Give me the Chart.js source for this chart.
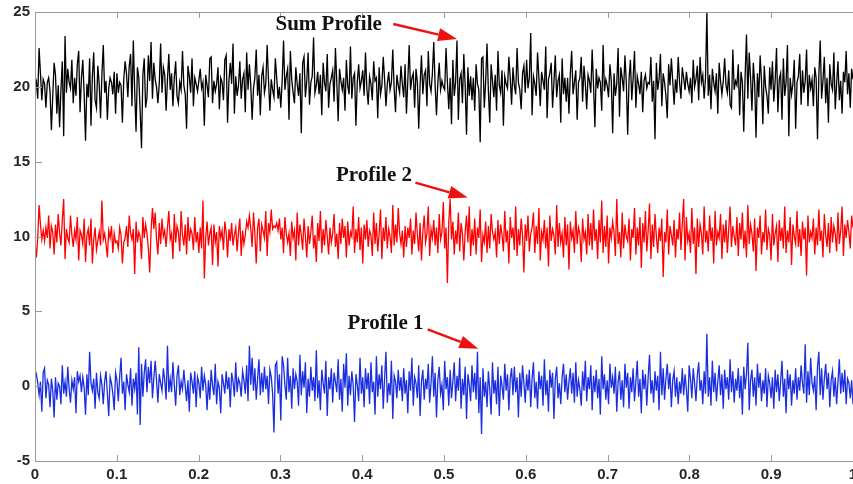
<!DOCTYPE html>
<html>
<head>
<meta charset="utf-8">
<script src="https://cdn.jsdelivr.net/npm/chart.js@4/dist/chart.umd.min.js"></script>
<style>
  html, body { margin: 0; padding: 0; background: #fff; overflow: hidden; }
  #wrap { width: 880px; height: 484px; }
</style>
</head>
<body>
<div id="wrap"><canvas id="profiles" width="880" height="484"></canvas></div>
<script>
// values, about 30 samples per 0.05 of x
const sumProfile = [
  20.7,20.4,19.2,22.6,20.9,19.1,20.5,20.2,18.6,20.3,20.6,19.7,17.1,19.4,21.6,20.8,18.2,20.1,17.3,19.8,21.7,16.7,23.4,19.6,21.2,20.3,19.9,21.8,18.9,20.6,
  19.4,21.5,22.4,18.3,20.6,21.8,19.5,16.4,20.2,19.3,21.9,17.4,20.7,22.3,19.1,18.6,21.4,20.2,17.9,20.8,22.8,19.6,20.4,17.8,19.9,20.6,20.3,19.5,21.0,18.2,
  20.9,19.6,20.3,20.1,17.6,20.5,21.7,20.9,19.3,21.4,22.2,18.7,23.1,19.7,17.0,21.3,20.6,18.4,15.9,20.8,21.9,18.6,19.3,22.1,20.4,23.0,19.2,21.6,20.5,20.0,
  18.9,20.2,22.9,19.6,21.3,20.8,18.4,20.5,22.2,19.8,20.9,18.7,20.6,21.7,19.4,18.9,20.3,19.8,22.4,20.1,19.5,17.2,21.4,20.7,19.6,21.9,18.7,20.6,20.2,19.7,
  20.4,21.2,19.9,20.3,17.4,20.8,20.1,19.3,21.9,22.0,18.9,20.4,19.7,20.2,21.3,18.5,20.6,20.3,19.1,21.8,22.1,17.6,20.4,21.6,20.2,22.9,18.2,20.7,19.4,20.1,
  21.7,19.2,20.5,20.9,18.3,22.3,19.8,21.5,20.1,17.8,19.9,20.6,22.5,19.4,20.8,18.1,20.7,21.3,19.6,20.2,22.8,20.4,18.4,20.5,19.8,19.3,21.9,20.6,19.2,20.0,
  18.6,20.4,23.1,19.8,20.7,21.2,17.8,22.4,20.5,19.6,18.9,21.3,20.2,19.4,20.9,16.9,21.6,22.0,19.3,20.4,22.3,18.8,20.3,20.7,23.3,19.6,20.1,21.0,19.5,20.8,
  18.1,21.6,20.3,19.7,22.2,18.6,20.2,20.6,21.1,19.0,22.6,20.3,17.7,21.2,20.4,19.8,20.6,18.4,21.8,20.1,19.5,22.7,19.2,20.6,20.9,17.4,20.3,21.5,19.9,20.4,
  21.1,19.4,22.3,19.9,18.8,20.7,20.2,19.1,21.7,20.4,20.6,17.9,21.3,19.5,20.1,22.0,20.5,18.7,20.2,21.0,19.8,20.3,22.5,19.9,18.3,20.8,20.1,19.6,21.4,20.2,
  19.3,21.5,18.2,20.4,22.8,19.8,20.6,20.9,18.6,21.2,20.3,17.2,20.1,22.1,19.5,20.8,21.1,18.7,22.4,20.2,19.7,20.9,23.0,20.1,18.1,20.3,21.6,19.8,20.4,20.0,
  19.8,22.6,20.3,18.5,20.6,17.5,21.8,19.4,20.3,23.1,17.8,20.5,20.9,18.9,22.2,20.1,16.8,21.3,19.4,20.7,19.1,20.6,18.4,21.5,20.2,19.8,16.3,21.9,22.0,18.6,
  20.3,22.9,19.7,17.6,21.5,20.4,19.3,20.8,18.4,22.4,20.1,19.6,21.1,17.4,20.7,20.2,19.9,22.0,20.6,18.8,21.3,20.1,19.5,22.6,20.3,19.8,18.5,20.9,21.4,19.6,
  21.8,19.9,20.6,23.6,18.1,20.7,20.2,19.4,22.3,20.6,18.7,21.0,20.4,19.8,22.7,17.9,20.5,20.9,21.6,18.6,20.3,22.1,19.3,20.4,20.8,17.6,21.9,19.5,20.6,19.0,
  20.6,18.2,20.9,22.4,19.5,20.3,21.1,17.8,20.3,20.6,22.0,19.0,21.4,20.2,18.5,20.8,20.4,19.6,22.5,20.1,17.3,21.2,19.9,20.6,20.3,18.4,22.8,19.7,20.5,20.1,
  19.3,21.5,20.4,16.9,20.9,19.4,20.2,22.6,18.0,21.3,20.6,19.7,22.1,20.3,16.8,20.5,21.8,19.1,20.6,22.4,18.6,20.7,20.2,19.5,21.0,18.3,20.4,20.8,19.9,20.3,
  20.2,22.0,19.0,20.4,16.5,21.6,19.8,20.5,22.2,18.7,20.9,20.3,19.4,17.9,21.5,20.1,21.9,20.4,18.8,20.5,19.6,22.0,20.3,19.2,21.3,20.6,19.8,21.0,20.2,19.7,
  20.6,18.9,21.8,20.0,20.5,21.4,19.1,22.0,20.3,20.8,19.2,20.6,25.0,19.4,20.8,18.5,21.2,20.3,19.7,20.9,18.2,21.6,20.4,19.5,20.4,21.9,20.1,19.6,21.1,18.8,
  18.6,22.5,19.8,20.4,20.1,21.5,18.1,21.0,20.3,17.0,20.7,23.5,19.2,22.3,20.6,18.4,21.6,20.2,16.6,20.9,19.3,22.1,20.4,17.5,21.4,20.0,19.4,18.2,21.3,19.8,
  21.7,19.0,20.4,22.6,18.3,20.5,20.9,17.8,21.9,19.4,20.3,22.8,16.7,20.6,19.5,20.2,21.8,17.2,20.3,20.7,22.2,18.8,21.1,19.6,20.4,22.5,18.7,20.8,19.9,20.5,
  18.7,21.3,20.6,16.5,20.8,23.1,19.2,20.4,22.0,18.9,20.6,17.6,21.5,20.2,19.8,22.3,18.5,20.2,21.7,19.1,20.4,18.2,21.0,20.3,22.4,19.5,20.9,18.6,21.2,20.5
]

const profile2 = [
  9.6,8.6,9.9,12.1,10.8,9.8,10.4,9.7,10.6,9.9,11.4,9.2,10.7,10.3,8.8,10.8,9.6,11.5,10.2,9.4,11.1,12.5,8.5,10.5,9.9,9.6,11.4,10.1,9.3,10.4,
  9.8,11.3,8.4,10.4,10.1,9.5,11.2,8.3,10.1,10.5,9.4,11.2,8.2,9.8,10.6,9.1,9.7,10.3,9.4,12.4,9.8,10.2,9.5,8.6,10.4,9.9,10.7,8.9,10.2,9.6,
  9.7,9.2,10.6,10.1,8.2,9.6,9.9,10.7,9.3,11.4,10.2,9.8,10.5,7.5,11.0,9.6,10.3,10.0,8.5,11.3,9.9,10.8,10.2,9.2,7.6,10.4,11.9,10.5,11.6,9.8,
  8.8,10.9,9.5,11.2,10.0,10.4,9.3,10.6,11.7,9.8,10.2,8.5,11.5,9.6,10.7,10.3,9.0,11.7,10.1,9.4,10.8,8.8,11.3,9.7,10.5,10.2,9.1,11.3,9.6,10.3,
  8.9,10.6,9.2,12.4,7.2,9.9,11.0,9.4,10.2,10.6,8.1,10.8,9.6,10.3,8.0,10.7,9.9,10.4,9.1,11.0,10.3,8.6,10.5,9.7,10.9,9.4,10.1,10.6,9.0,10.3,
  11.2,8.7,10.4,9.5,10.1,11.0,10.6,11.4,10.5,9.3,11.6,10.2,8.2,10.6,11.2,9.0,10.8,10.4,9.9,11.7,8.7,10.9,10.3,11.8,10.5,10.7,10.6,10.9,10.4,11.2,
  9.8,10.6,8.9,11.3,10.2,9.6,10.2,8.7,11.0,9.9,10.4,8.4,11.6,9.4,10.8,10.1,9.1,11.2,10.0,8.6,10.7,9.5,10.3,11.4,9.2,10.1,8.3,10.9,9.7,11.7,
  8.9,10.5,9.4,11.1,10.0,8.8,10.6,9.6,10.2,11.5,9.3,10.2,8.5,10.9,9.5,11.2,9.9,10.7,8.6,11.0,9.4,10.3,10.0,12.0,8.9,10.5,9.6,11.3,9.1,10.6,
  8.2,10.8,9.8,11.1,9.3,10.4,10.1,8.7,11.6,9.5,10.9,9.0,10.2,11.8,8.5,10.6,9.7,11.3,9.2,10.5,10.0,8.9,12.1,9.4,10.8,9.6,11.9,10.2,9.5,10.4,
  8.6,10.7,9.3,10.6,9.9,11.2,8.8,10.4,9.5,11.6,10.1,9.0,10.9,8.4,10.3,11.4,9.6,10.2,12.0,8.7,10.5,9.9,11.1,9.4,10.6,8.9,11.5,9.8,10.3,12.3,
  9.2,10.6,6.9,11.0,12.5,9.8,11.0,8.8,10.4,9.5,11.6,9.0,10.9,10.2,8.4,10.3,11.4,9.6,12.0,8.7,10.5,9.4,11.2,8.8,10.6,9.9,11.8,8.3,10.1,9.6,
  11.0,8.9,10.7,9.2,11.5,10.3,9.8,10.3,8.6,11.1,9.5,10.8,10.1,9.0,11.7,9.6,10.4,8.2,11.3,9.9,10.6,9.1,12.0,8.7,10.5,9.4,11.2,10.1,7.6,10.8,
  9.7,11.4,9.0,10.2,10.6,11.6,8.9,10.7,9.5,11.9,8.4,10.3,9.8,11.1,9.2,10.6,8.0,11.4,9.7,10.5,10.1,8.8,12.1,9.3,10.9,9.6,10.2,8.6,11.3,9.4,
  10.8,7.8,11.0,9.9,10.4,8.9,11.7,9.5,10.6,10.2,8.3,11.2,9.8,10.3,8.8,11.5,9.4,10.9,9.1,11.8,9.7,10.5,8.5,11.1,9.6,12.4,8.9,10.7,9.3,11.4,
  8.2,10.6,9.9,11.0,10.3,8.7,12.5,9.5,10.3,8.6,11.6,9.2,10.8,10.0,9.7,11.2,8.4,10.5,9.9,11.9,8.8,10.6,9.4,11.3,7.9,10.9,9.6,11.7,9.0,10.4,
  12.2,8.5,10.8,9.3,11.5,10.0,8.9,10.6,9.7,11.2,7.3,10.3,9.6,11.8,8.8,10.7,10.1,9.4,11.1,8.6,10.5,9.8,11.6,9.1,10.9,12.5,8.4,11.3,9.7,10.2,
  8.9,11.9,9.5,10.6,7.5,11.2,9.3,10.8,10.2,8.8,12.0,9.6,10.4,9.0,11.4,9.7,10.6,8.2,11.7,9.4,10.3,9.9,11.5,8.5,10.8,9.6,11.1,8.9,10.5,12.0,
  9.3,10.7,10.0,9.4,11.3,8.7,10.9,9.8,11.6,9.2,10.4,8.6,12.1,9.5,10.8,10.2,9.0,11.2,7.7,10.6,9.9,11.4,8.8,10.3,9.6,11.8,9.1,10.5,10.1,8.4,
  11.5,9.4,10.2,10.7,8.3,11.1,9.7,10.6,9.2,12.0,8.9,10.4,9.6,11.3,8.1,10.8,10.0,9.5,11.7,9.3,10.5,8.7,11.0,9.8,10.6,7.4,11.4,9.6,10.3,9.9,
  11.2,8.8,10.6,9.4,11.8,9.7,10.4,8.6,11.5,10.1,9.3,10.9,8.9,11.3,9.6,10.7,10.2,9.0,11.6,9.5,10.4,12.0,8.7,10.8,9.9,11.1,10.3,9.2,11.4,10.6
]

const profile1 = [
  1.1,0.8,0.2,-0.6,0.3,-1.7,0.9,1.2,-0.8,0.4,0.1,-1.4,0.5,-0.3,-2.1,0.6,-0.9,0.2,0.0,-1.2,1.4,-0.5,0.3,-0.7,1.3,-0.2,-1.1,0.4,-0.2,0.6,
  -1.8,1.0,0.3,0.7,-0.4,0.6,-0.1,-1.9,0.8,-0.6,2.3,0.2,-0.3,0.5,-1.5,0.9,-0.4,-0.8,0.7,0.1,-1.2,0.3,1.0,-0.5,-2.0,0.6,0.2,-0.5,-1.6,0.9,
  0.4,-1.0,0.6,1.9,-0.5,0.3,-1.6,0.8,0.1,-0.4,1.2,-1.3,0.5,-0.2,0.9,-1.9,2.6,-2.6,1.5,-0.7,0.9,1.8,-0.4,1.3,0.2,1.7,-0.8,0.5,1.7,0.4,
  -1.1,0.8,0.2,-0.3,1.2,0.4,-0.9,2.7,-0.4,0.5,-0.4,1.6,0.1,-1.3,0.7,1.4,-0.6,0.3,-0.2,1.1,0.0,-1.0,0.4,-1.7,0.9,0.3,-0.5,1.0,-1.4,0.6,
  0.2,-0.8,1.3,-0.3,0.7,0.1,-1.6,0.4,-0.9,1.1,0.0,-0.6,1.5,-1.2,0.3,-0.1,-1.8,0.8,0.2,-0.5,1.0,-0.2,0.6,-1.4,0.9,0.3,-0.7,1.6,-0.4,0.5,
  0.2,-0.7,1.0,0.4,-0.5,1.4,-1.0,2.7,0.1,1.9,-0.3,1.2,-0.9,0.5,1.8,-0.6,0.9,-0.4,1.3,-0.2,0.7,-1.2,1.1,0.6,-0.5,-3.1,1.4,1.6,-0.5,0.8,
  -2.3,2.0,1.4,0.1,-0.9,1.9,-0.4,0.7,-1.5,1.2,-0.2,0.8,0.3,-1.3,2.1,-0.6,1.0,-0.1,1.6,-1.8,0.5,-0.7,1.3,-0.3,0.6,-1.0,2.4,-0.8,0.4,-1.6,
  1.1,0.2,-0.5,1.7,-2.0,0.6,-0.2,1.2,-1.1,0.9,0.3,-0.4,1.8,-0.9,0.5,-1.7,1.5,-0.1,2.2,-1.3,0.7,-0.6,1.0,0.1,-2.4,0.8,0.1,-1.0,1.9,-0.5,
  0.6,-1.4,1.2,-0.2,0.9,-1.2,1.6,-0.4,0.3,-1.9,2.0,-0.7,0.8,-0.2,1.4,-1.5,0.5,2.3,-1.1,0.2,-0.6,1.7,-2.2,0.7,0.3,-0.8,1.1,-0.3,0.6,-1.0,
  1.2,-0.5,0.4,-1.8,1.0,-0.3,1.9,-1.3,0.6,0.2,-0.8,1.4,-2.0,0.3,1.1,-0.9,0.5,-0.2,1.5,-1.1,0.2,2.0,-0.7,0.9,-2.1,0.4,1.3,-0.5,0.1,-1.6,
  1.7,-0.2,0.6,-1.3,1.1,-0.8,0.3,1.6,-1.0,0.7,-0.3,1.9,-1.5,0.5,-0.6,1.3,-2.2,0.8,0.1,-1.0,1.4,-0.4,0.9,-0.9,2.3,-1.8,0.6,-3.2,1.2,-0.7,
  0.3,-1.4,1.0,-0.2,-1.9,1.6,-0.5,0.4,-1.2,1.3,-2.0,0.7,0.0,-0.9,1.5,-0.3,0.8,-1.6,0.5,1.2,-0.6,1.3,-0.4,0.6,-2.1,0.9,-0.7,1.4,0.2,-1.1,
  0.8,-0.3,1.1,-1.4,0.5,1.6,-0.8,0.3,-1.5,1.0,-0.2,0.7,-1.3,1.8,-0.6,0.4,-1.7,1.1,-0.1,0.9,-2.2,0.5,1.3,-0.8,0.2,-1.2,0.6,1.5,-0.4,0.8,
  -0.9,0.3,1.2,-0.5,0.9,-1.1,1.6,-0.7,0.4,-0.2,-1.3,1.0,-0.3,1.7,-1.0,0.6,-0.2,1.4,-1.6,0.7,-0.4,1.1,-0.8,0.5,-1.9,2.0,-0.2,0.8,-0.9,0.4,
  -1.2,1.5,-0.1,0.6,-0.5,1.3,-1.7,0.3,1.0,-0.9,0.4,-1.4,1.5,-0.1,0.9,-1.5,0.6,-0.4,1.2,-1.0,0.3,1.7,-0.7,0.5,-1.8,1.1,-0.2,0.8,-1.3,0.6,
  2.1,-0.5,0.4,-1.1,1.0,-0.3,0.7,-1.6,2.3,-0.6,1.2,-0.9,0.5,1.5,-0.2,0.9,-1.4,0.4,1.0,-0.7,0.6,-1.2,0.3,-0.5,1.2,-0.6,0.8,-0.2,-1.7,1.4,
  0.5,-0.8,1.2,0.2,-1.0,0.7,1.6,-0.3,0.4,-1.2,1.0,-0.5,3.5,-0.7,0.6,-1.3,1.7,-0.4,0.9,-1.0,0.3,1.4,-0.6,0.8,-1.5,1.1,-0.2,0.6,-0.9,1.8,
  -0.4,1.0,-1.1,0.5,-0.3,1.2,-0.8,0.7,-1.9,1.3,-0.2,0.8,2.9,-1.6,0.4,1.1,-0.7,0.6,-1.3,1.5,-0.1,0.9,-1.0,0.4,-0.5,1.2,-1.4,0.7,0.2,-0.8,
  0.6,-1.5,1.1,-0.4,0.8,-1.0,0.3,1.7,-0.7,0.5,-1.8,1.1,-0.2,0.8,-1.3,0.4,-0.5,1.2,-0.9,0.6,-0.3,1.4,0.2,-0.5,2.8,-1.1,1.0,-0.6,1.9,0.2,
  -0.3,0.7,-1.6,1.3,2.3,-0.6,1.2,-0.9,0.5,1.5,-0.2,0.9,-1.4,0.4,1.0,-0.7,0.6,-1.2,0.3,1.8,-0.5,0.9,-0.4,1.1,-1.2,0.5,0.2,-0.8,0.4,-1.2
]

const xTicks = [0, 0.1, 0.2, 0.3, 0.4, 0.5, 0.6, 0.7, 0.8, 0.9, 1]
const yTicks = [-5, 0, 5, 10, 15, 20, 25]

// text labels with arrows, in data units: [text, textX, textY, arrowFromX, arrowFromY, arrowToX, arrowToY]
const callouts = [
  ["Sum Profile", 0.294, 23.8, 0.438, 24.2, 0.516, 23.2],
  ["Profile 2", 0.368, 13.7, 0.465, 13.6, 0.529, 12.6],
  ["Profile 1", 0.382, 3.8, 0.480, 3.8, 0.542, 2.5],
]

function toPoints(values) {
  return values.map((v, i) => ({ x: i / (values.length - 1), y: v }))
}

const frameAndCallouts = {
  id: "frameAndCallouts",
  afterDatasetsDraw(chart) {
    const { ctx, chartArea, scales } = chart
    const { left, right, top, bottom } = chartArea
    ctx.save()
    ctx.strokeStyle = "#9a9a9a"
    ctx.lineWidth = 1
    ctx.strokeRect(left + 0.5, top + 0.5, right - left, bottom - top)
    ctx.beginPath()
    for (const t of xTicks) {
      const px = Math.round(scales.x.getPixelForValue(t)) + 0.5
      ctx.moveTo(px, bottom); ctx.lineTo(px, bottom - 6)
      ctx.moveTo(px, top); ctx.lineTo(px, top + 6)
    }
    for (const t of yTicks) {
      const py = Math.round(scales.y.getPixelForValue(t)) + 0.5
      ctx.moveTo(left, py); ctx.lineTo(left + 7, py)
    }
    ctx.stroke()

    ctx.font = "bold 21px 'Liberation Serif', 'Times New Roman', serif"
    ctx.textBaseline = "alphabetic"
    for (const [label, tx, ty, fx, fy, ax, ay] of callouts) {
      ctx.fillStyle = "#111"
      ctx.fillText(label, scales.x.getPixelForValue(tx), scales.y.getPixelForValue(ty))
      const x1 = scales.x.getPixelForValue(fx), y1 = scales.y.getPixelForValue(fy)
      const x2 = scales.x.getPixelForValue(ax), y2 = scales.y.getPixelForValue(ay)
      const ang = Math.atan2(y2 - y1, x2 - x1)
      const headLen = 19, headW = 6.5
      const bx = x2 - headLen * Math.cos(ang), by = y2 - headLen * Math.sin(ang)
      ctx.strokeStyle = "#ee1111"
      ctx.fillStyle = "#ee1111"
      ctx.lineWidth = 2.5
      ctx.beginPath(); ctx.moveTo(x1, y1); ctx.lineTo(bx, by); ctx.stroke()
      ctx.beginPath()
      ctx.moveTo(x2, y2)
      ctx.lineTo(bx + headW * Math.sin(ang), by - headW * Math.cos(ang))
      ctx.lineTo(bx - headW * Math.sin(ang), by + headW * Math.cos(ang))
      ctx.closePath(); ctx.fill()
    }
    ctx.restore()
  },
}

const tickFont = { family: "'Liberation Sans', Arial, sans-serif", size: 15, weight: "bold" }

new Chart(document.getElementById("profiles"), {
  type: "line",
  data: {
    datasets: [
      { label: "Sum Profile", data: toPoints(sumProfile), borderColor: "#000000", borderWidth: 1.3 },
      { label: "Profile 2", data: toPoints(profile2), borderColor: "#ff0000", borderWidth: 1.3 },
      { label: "Profile 1", data: toPoints(profile1), borderColor: "#1a2ee0", borderWidth: 1.3 },
    ],
  },
  options: {
    responsive: false,
    animation: false,
    elements: { point: { radius: 0 }, line: { tension: 0 } },
    layout: { padding: { left: 0, right: 27, top: 12, bottom: 0 } },
    plugins: { legend: { display: false }, tooltip: { enabled: false } },
    scales: {
      x: {
        type: "linear",
        min: 0,
        max: 1,
        afterBuildTicks: (scale) => { scale.ticks = xTicks.map((v) => ({ value: v })) },
        afterFit: (scale) => { scale.height = 23; scale.paddingLeft = 0; scale.paddingRight = 0 },
        grid: { display: false, drawTicks: false },
        border: { display: false },
        ticks: { color: "#262626", font: tickFont, padding: 5, maxRotation: 0, callback: (v) => String(v) },
      },
      y: {
        min: -5,
        max: 25,
        afterBuildTicks: (scale) => { scale.ticks = yTicks.map((v) => ({ value: v })) },
        afterFit: (scale) => { scale.width = 35; scale.paddingTop = 0; scale.paddingBottom = 0 },
        grid: { display: false, drawTicks: false },
        border: { display: false },
        ticks: { color: "#262626", font: tickFont, padding: 5 },
      },
    },
  },
  plugins: [frameAndCallouts],
})
</script>
</body>
</html>
